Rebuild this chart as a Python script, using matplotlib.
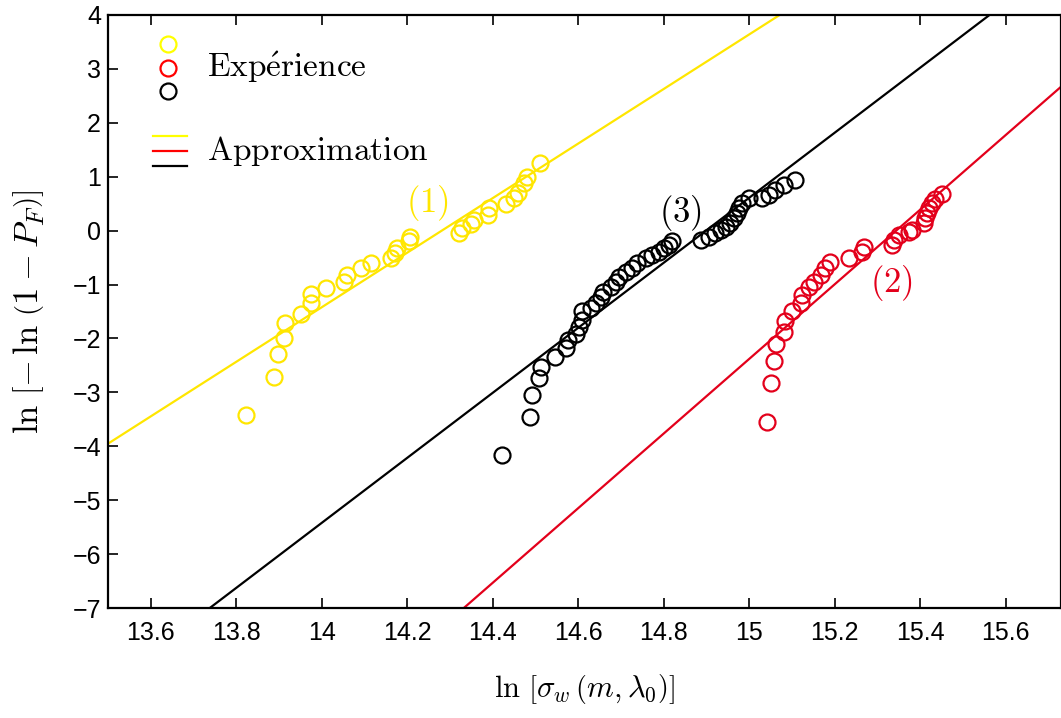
import matplotlib
matplotlib.use("Agg")
import matplotlib.pyplot as plt
import numpy as np
from matplotlib.ticker import FormatStrFormatter

plt.rcParams['mathtext.fontset'] = 'cm'
plt.rcParams['font.family'] = ['Liberation Sans', 'DejaVu Sans']

# series (1) jaune
x1 = [13.823, 13.889, 13.897, 13.911, 13.915, 13.952, 13.975, 13.975, 14.010, 14.053,
      14.058, 14.093, 14.115, 14.162, 14.172, 14.176, 14.205, 14.206, 14.322, 14.329,
      14.349, 14.357, 14.388, 14.392, 14.431, 14.450, 14.458, 14.474, 14.481, 14.511]
y1 = [-3.42, -2.72, -2.28, -1.99, -1.72, -1.54, -1.35, -1.17, -1.07, -0.95,
      -0.82, -0.70, -0.61, -0.51, -0.42, -0.33, -0.19, -0.11, -0.05, 0.04,
      0.13, 0.20, 0.29, 0.42, 0.50, 0.60, 0.69, 0.88, 1.00, 1.25]

# series (2) rouge
x2 = [15.042, 15.050, 15.059, 15.062, 15.081, 15.083, 15.100, 15.122, 15.124, 15.139,
      15.151, 15.167, 15.178, 15.190, 15.233, 15.264, 15.268, 15.334, 15.338, 15.350,
      15.373, 15.381, 15.408, 15.412, 15.416, 15.420, 15.428, 15.435, 15.451]
y2 = [-3.55, -2.83, -2.41, -2.10, -1.88, -1.67, -1.50, -1.34, -1.19, -1.05,
      -0.95, -0.82, -0.70, -0.58, -0.50, -0.39, -0.30, -0.27, -0.17, -0.08,
      -0.02, 0.02, 0.14, 0.23, 0.32, 0.41, 0.51, 0.58, 0.68]

# series (3) noire
x3 = [14.421, 14.488, 14.493, 14.509, 14.512, 14.546, 14.571, 14.575, 14.594, 14.602,
      14.608, 14.610, 14.629, 14.641, 14.653, 14.657, 14.676, 14.688, 14.695, 14.711,
      14.727, 14.738, 14.758, 14.773, 14.789, 14.801, 14.812, 14.820,
      14.887, 14.906, 14.921, 14.933, 14.945, 14.956, 14.964, 14.972, 14.976, 14.984,
      14.999, 15.030, 15.046, 15.061, 15.081, 15.108]
y3 = [-4.16, -3.45, -3.05, -2.74, -2.53, -2.34, -2.18, -2.03, -1.91, -1.78,
      -1.66, -1.50, -1.44, -1.35, -1.23, -1.13, -1.04, -0.95, -0.86, -0.76,
      -0.70, -0.61, -0.51, -0.45, -0.39, -0.33, -0.27, -0.19,
      -0.17, -0.11, -0.05, 0.01, 0.07, 0.14, 0.23, 0.32, 0.41, 0.51,
      0.60, 0.60, 0.66, 0.75, 0.85, 0.94]

# approximation : y = m * (x - x0)
slopes = [5.06, 6.92, 6.03]
x0s = [14.281, 15.344, 14.899]

colors = ['#ffe600', '#e3001b', 'black']
labels = [r'$(1)$', r'$(2)$', r'$(3)$']
label_pos = [(14.248, 0.51), (15.334, -0.97), (14.839, 0.33)]

fig = plt.figure(figsize=(10.61, 7.18), dpi=100)
ax = fig.add_axes([0.1018, 0.1532, 0.898, 0.826])

xmin, xmax = 13.5, 15.729
xx = np.array([xmin, xmax])
for xs, ys, m, x0, c, lab, pos in zip([x1, x2, x3], [y1, y2, y3], slopes, x0s,
                                      colors, labels, label_pos):
    ax.plot(xx, m * (xx - x0), color=c, lw=1.6)
    ax.plot(xs, ys, 'o', mfc='none', mec=c, mew=1.6, ms=11.5)
    ax.text(pos[0], pos[1], lab, color=c, fontsize=25, ha='center', va='center')

ax.set_xlim(xmin, xmax)
ax.set_ylim(-7, 4)
ax.set_xticks(np.arange(13.6, 15.61, 0.2))
ax.set_yticks(range(-7, 5))
ax.xaxis.set_major_formatter(FormatStrFormatter('%g'))
ax.tick_params(direction='in', length=7, width=1.2, labelsize=18, top=True, right=False)
ax.tick_params(axis='x', pad=9)
ax.tick_params(axis='y', pad=5)
for s in ax.spines.values():
    s.set_linewidth(1.6)

ax.set_xlabel(r'$\ln\,\left[\sigma_w\,\left(m,\lambda_0\right)\right]$', fontsize=22, labelpad=20)
ax.set_ylabel(r'$\ln\,\left[-\,\ln\,\left(1-P_F\right)\right]$', fontsize=25, labelpad=19)

# légende
legc = ['#ffff00', '#ff0000', 'black']
for i, c in enumerate(legc):
    ax.plot([0.063], [0.951 - i * 0.04], 'o', mfc='none', mec=c, mew=1.6, ms=11.5,
            transform=ax.transAxes, clip_on=False)
    ax.plot([0.047, 0.083], [0.796 - i * 0.0255] * 2, color=c, lw=1.6,
            transform=ax.transAxes)
ax.text(0.104, 0.911, r'$\mathrm{Exp\acute{e}rience}$', fontsize=24,
        transform=ax.transAxes, va='center')
ax.text(0.104, 0.771, r'$\mathrm{Approximation}$', fontsize=24,
        transform=ax.transAxes, va='center')

fig.savefig('out.png', dpi=100)
